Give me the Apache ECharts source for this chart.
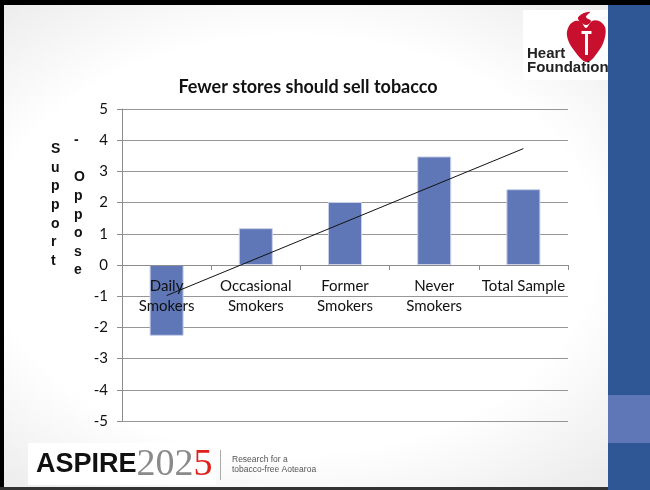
<!DOCTYPE html>
<html><head><meta charset="utf-8">
<script src="https://cdn.jsdelivr.net/npm/echarts@6/dist/echarts.min.js"></script>
<style>
html,body{margin:0;padding:0;background:#fff;overflow:hidden}
#wrap{position:relative;width:650px;height:490px;overflow:hidden;
  background:radial-gradient(ellipse at 45% 50%, #ffffff 60%, #e6e6e6 100%);}
#top{position:absolute;left:0;top:0;width:650px;height:5px;background:#000}
#left{position:absolute;left:0;top:0;width:4px;height:490px;background:#000}
#bottom{position:absolute;left:0;top:487px;width:608px;height:3px;background:#333}
#band{position:absolute;left:608px;top:5px;width:42px;height:485px;background:#2F5795}
#band2{position:absolute;left:608px;top:395px;width:42px;height:48px;background:#5F77B7}
#c{position:absolute;left:0;top:0;width:650px;height:490px}
</style>
</head><body>
<div id="wrap"><div id="top"></div><div id="left"></div><div id="bottom"></div><div id="band"></div><div id="band2"></div><div id="c"></div></div>
<script>
// ---- data ----
const categories = ['Daily\nSmokers', 'Occasional\nSmokers', 'Former\nSmokers', 'Never\nSmokers', 'Total Sample'];
const supportMinusOppose = [-2.27, 1.18, 2.02, 3.48, 2.43];
const trendLine = [-0.98, null, null, null, 3.73];
const yMin = -5, yMax = 5, yInterval = 1;
const titleText = 'Fewer stores should sell tobacco';
const yNameCol1 = ['S', 'u', 'p', 'p', 'o', 'r', 't'];
const yNameCol2 = ['-', ' ', 'O', 'p', 'p', 'o', 's', 'e'];

const chart = echarts.init(document.getElementById('c'), null, {renderer: 'canvas'});
const font = 'Lato, "Open Sans", sans-serif';
// grid geometry: top 109, bottom edge 421 -> zero line sits 156px above bottom edge
chart.setOption({
  backgroundColor: 'transparent',
  animation: false,
  title: {
    text: titleText, left: 303, top: 73, textAlign: 'center',
    textStyle: {fontFamily: font, fontWeight: 'bold', fontSize: 18, color: '#111'}
  },
  grid: {left: 122, right: 82, top: 109, bottom: 69},
  xAxis: {
    type: 'category', data: categories, position: 'bottom', offset: -156, z: 10,
    axisLine: {onZero: false, lineStyle: {color: '#8c8c8c'}},
    axisTick: {show: true, length: 5, lineStyle: {color: '#8c8c8c'}},
    axisLabel: {color: '#111', fontFamily: font, fontSize: 15, lineHeight: 20, margin: 11, interval: 0}
  },
  yAxis: {
    type: 'value', min: yMin, max: yMax, interval: yInterval,
    axisLine: {show: true, lineStyle: {color: '#8c8c8c'}},
    axisTick: {show: true, length: 5, lineStyle: {color: '#8c8c8c'}},
    axisLabel: {color: '#111', fontFamily: font, fontSize: 15, margin: 14},
    splitLine: {lineStyle: {color: '#969696'}}
  },
  series: [
    {type: 'bar', data: supportMinusOppose, barWidth: 34,
     itemStyle: {color: '#5F77B7', borderColor: '#c8d0e8', borderWidth: 1}},
    {type: 'line', data: trendLine, connectNulls: true, symbol: 'none',
     lineStyle: {color: '#111', width: 1}, z: 12}
  ],
  graphic: [
    {type: 'text', left: 51, top: 140, style: {text: yNameCol1.join('\n'), fontFamily: '"Liberation Sans", Arial', fontWeight: 'bold', fontSize: 14, fill: '#111', lineHeight: 18.6, align: 'center'}},
    {type: 'text', left: 74, top: 131, style: {text: yNameCol2.join('\n'), fontFamily: '"Liberation Sans", Arial', fontWeight: 'bold', fontSize: 14, fill: '#111', lineHeight: 18.6, align: 'center'}},
    // Heart Foundation logo
    {type: 'rect', shape: {x: 523, y: 10, width: 85, height: 70}, style: {fill: '#fff'}},
    {type: 'polygon', shape: {smooth: 0.35, points: [[587, 62], [573, 49], [567, 36], [569, 26], [575, 21], [581, 22], [586, 28], [592, 21], [599, 21], [605, 27], [605, 37], [600, 49]]}, style: {fill: '#C8102E'}},
    {type: 'polygon', shape: {smooth: 0.4, points: [[586, 25], [578, 19], [582, 14], [590, 12], [586, 17], [591, 21]]}, style: {fill: '#C8102E'}},
    {type: 'rect', shape: {x: 585, y: 33, width: 3, height: 22}, style: {fill: '#fff'}},
    {type: 'rect', shape: {x: 581.5, y: 31, width: 10, height: 3}, style: {fill: '#fff'}},
    {type: 'text', left: 527, top: 46, style: {text: 'Heart\nFoundation', fontFamily: '"Liberation Sans", Arial', fontWeight: 'bold', fontSize: 15, fill: '#222', lineHeight: 14}},
    // ASPIRE2025 logo
    {type: 'rect', shape: {x: 28, y: 443, width: 188, height: 42}, style: {fill: '#fff'}},
    {type: 'text', left: 36, top: 446, style: {
      text: '{a|ASPIRE}{b|202}{c|5}',
      rich: {
        a: {fontFamily: '"Liberation Sans", Arial', fontWeight: 'bold', fontSize: 27, fill: '#111', lineHeight: 36},
        b: {fontFamily: '"Liberation Serif", serif', fontSize: 38, fill: '#8a8a8a', lineHeight: 36},
        c: {fontFamily: '"Liberation Serif", serif', fontSize: 38, fill: '#e0201b', lineHeight: 36}
      }}},
    {type: 'rect', shape: {x: 220, y: 450, width: 1, height: 30}, style: {fill: '#aaa'}},
    {type: 'text', left: 232, top: 455, style: {text: 'Research for a\ntobacco-free Aotearoa', fontFamily: '"Liberation Sans", Arial', fontSize: 8.5, fill: '#555', lineHeight: 9.5}}
  ]
});
</script>
</body></html>
